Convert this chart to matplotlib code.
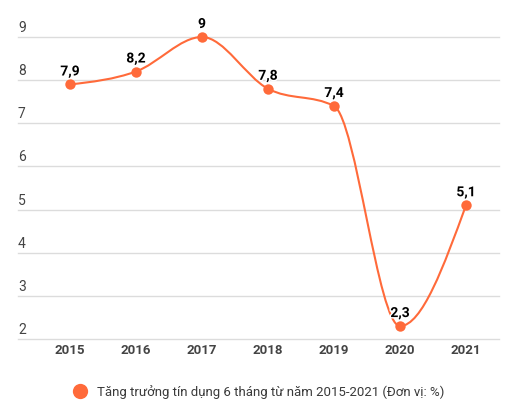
import numpy as np
import matplotlib
matplotlib.use('Agg')
import matplotlib.pyplot as plt
from matplotlib.lines import Line2D
from matplotlib.path import Path
from matplotlib.patches import PathPatch
import matplotlib.patheffects as pe

years = ['2015', '2016', '2017', '2018', '2019', '2020', '2021']
growth = [7.9, 8.2, 9.0, 7.8, 7.4, 2.3, 5.1]
labels = ['7,9', '8,2', '9', '7,8', '7,4', '2,3', '5,1']
yticks = [2, 3, 4, 5, 6, 7, 8, 9]
legend_text = 'Tăng trưởng tín dụng 6 tháng từ năm 2015-2021 (Đơn vị: %)'

orange = '#ff6a3a'
plt.rcParams['font.family'] = ['Roboto', 'DejaVu Sans']


def sgn(v):
    return -1.0 if v < 0 else 1.0


def monotone_path(xs, ys):  # đường cong đơn điệu (kiểu monotoneX)
    n = len(xs)
    t = np.zeros(n)
    for i in range(1, n - 1):
        h0 = xs[i] - xs[i - 1]
        h1 = xs[i + 1] - xs[i]
        s0 = (ys[i] - ys[i - 1]) / h0
        s1 = (ys[i + 1] - ys[i]) / h1
        p = (s0 * h1 + s1 * h0) / (h0 + h1)
        t[i] = (sgn(s0) + sgn(s1)) * min(abs(s0), abs(s1), 0.5 * abs(p))
    t[0] = (3 * (ys[1] - ys[0]) / (xs[1] - xs[0]) - t[1]) / 2
    t[-1] = (3 * (ys[-1] - ys[-2]) / (xs[-1] - xs[-2]) - t[-2]) / 2
    verts = [(xs[0], ys[0])]
    codes = [Path.MOVETO]
    for i in range(1, n):
        dx = (xs[i] - xs[i - 1]) / 3.0
        verts += [(xs[i - 1] + dx, ys[i - 1] + dx * t[i - 1]),
                  (xs[i] - dx, ys[i] - dx * t[i]),
                  (xs[i], ys[i])]
        codes += [Path.CURVE4] * 3
    return Path(verts, codes)


fig = plt.figure(figsize=(5.1, 4.14), dpi=100, facecolor='white')
W, H = 510.0, 414.0
ax = fig.add_axes([37 / W, (H - 340) / H, 462 / W, 302 / H], frameon=False)
ax.set_xlim(-0.5, len(years) - 0.5)
ax.set_ylim(2, 9)
ax.set_xticks([])
ax.set_yticks([])

x = np.arange(len(years), dtype=float)
left = (18 - 37) / 462.0
for v in yticks:
    ax.plot([left, 1.0], [v, v], transform=ax.get_yaxis_transform(), color='#dcdcdc',
            lw=1, clip_on=False, zorder=1)
    ax.annotate(str(v), xy=(left, v), xycoords=ax.get_yaxis_transform(), xytext=(0, 3),
                textcoords='offset pixels', ha='left', va='bottom', fontsize=10, color='#444444')

curve = PathPatch(monotone_path(x, growth), facecolor='none', edgecolor=orange, lw=1.5,
                  clip_on=False, zorder=3)
ax.add_patch(curve)
ax.plot(x, growth, 'o', color=orange, markersize=7.5, markeredgewidth=0, clip_on=False, zorder=4)

for xi, yi, lab in zip(x, growth, labels):
    ax.annotate(lab, xy=(xi, yi), xytext=(0, 6), textcoords='offset pixels', ha='center',
                va='bottom', fontsize=10, fontweight='bold', color='black', zorder=5,
                path_effects=[pe.withStroke(linewidth=2, foreground='white')])

for xi, yr in zip(x, years):
    ax.annotate(yr, xy=(xi, 2), xytext=(0, -11), textcoords='offset pixels', ha='center',
                va='center', fontsize=9.5, fontweight='bold', color='#444444')

fig.add_artist(Line2D([80 / W], [(H - 392) / H], marker='o', color=orange, markersize=11,
                      markeredgewidth=0, transform=fig.transFigure))
fig.text(97 / W, (H - 392) / H, legend_text, ha='left', va='center', fontsize=9.5, color='#3a3a3a')

fig.savefig('out.png', dpi=100, facecolor='white')
